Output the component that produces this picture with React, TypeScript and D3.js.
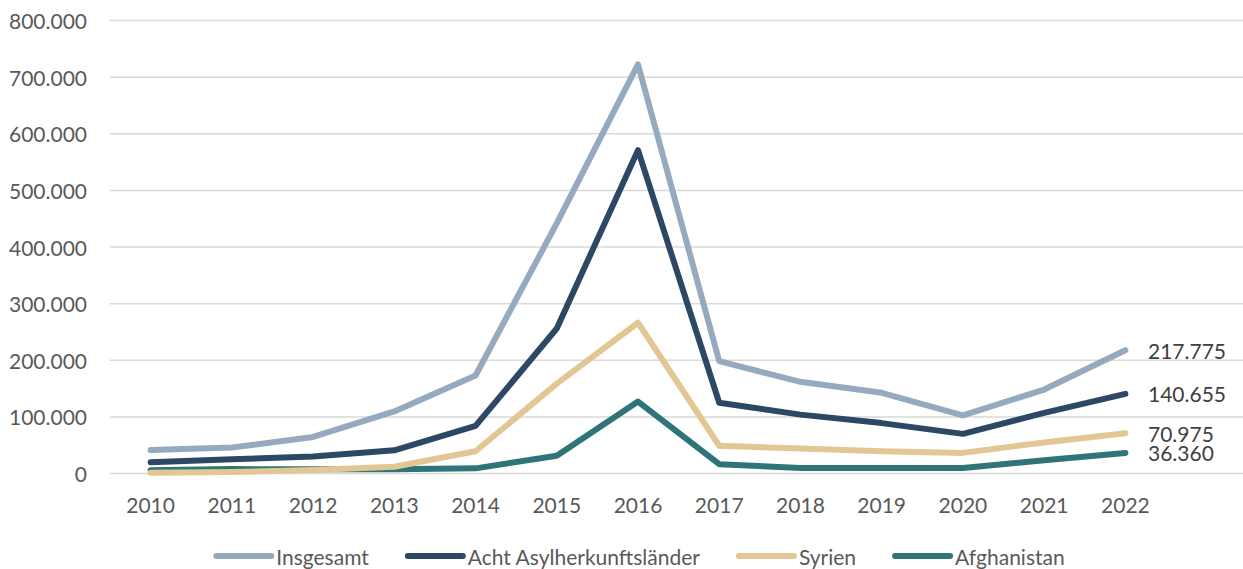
import React, { useEffect, useRef } from "react";
import * as d3 from "d3";

const years = ["2010","2011","2012","2013","2014","2015","2016","2017","2018","2019","2020","2021","2022"];
const insgesamt = [41332, 45741, 64539, 109580, 173072, 441899, 722370, 198317, 161931, 142509, 102581, 148233, 217775];
const acht = [20000, 25000, 30000, 41000, 84000, 256000, 571000, 125000, 104000, 89000, 70000, 107000, 140655];
const syrien = [1500, 2600, 6200, 11900, 39300, 158700, 266200, 48970, 44200, 39300, 36400, 54900, 70975];
const afghanistan = [5900, 7800, 7500, 7700, 9100, 31400, 127000, 16400, 9900, 9500, 9900, 23300, 36360];
const yTicks = [0, 100000, 200000, 300000, 400000, 500000, 600000, 700000, 800000];
const seriesNames = ["Insgesamt", "Acht Asylherkunftsländer", "Syrien", "Afghanistan"];
const seriesColors = ["#96AABF", "#2C4865", "#E2C794", "#2F7479"];
const seriesValues = [insgesamt, acht, syrien, afghanistan];

const W = 1243, H = 569;
const FONT = "Lato, 'Open Sans', sans-serif";
const TXT = "#595959";

const fmt = (v: number) => v === 0 ? "0" : d3.format(",")(v).replace(/,/g, ".");

export default function App() {
  const legendRef = useRef<SVGGElement>(null);
  const x = d3.scaleBand<string>().domain(years).range([110, 1166]);
  const y = d3.scaleLinear().domain([0, 800000]).range([473.5, 20.5]);
  const cx = (yr: string) => (x(yr) ?? 0) + x.bandwidth() / 2;
  const line = d3.line<number>().x((_, i) => cx(years[i])).y(v => y(v));

  useEffect(() => {
    const g = d3.select(legendRef.current);
    if (!g.node()) return;
    const items = g.selectAll<SVGGElement, unknown>("g.item").nodes();
    const lineW = 55, gap1 = 5, gap2 = 39;
    let widths = items.map(n => (n.querySelector("text") as SVGTextElement).getComputedTextLength());
    const total = widths.reduce((a, w) => a + lineW + gap1 + w, 0) + gap2 * (items.length - 1);
    let xp = 640.5 - total / 2;
    items.forEach((n, i) => {
      d3.select(n).attr("transform", `translate(${xp},0)`);
      xp += lineW + gap1 + widths[i] + gap2;
    });
  }, []);

  return (
    <svg width={W} height={H} style={{ position: "absolute", left: 0, top: 0, background: "#fff" }}>
      <g>
        {yTicks.map(t => (
          <g key={t}>
            <line x1={110} x2={W} y1={y(t)} y2={y(t)} stroke="#D9D9D9" strokeWidth={1.5} />
            <text x={87} y={y(t)} textAnchor="end" dominantBaseline="central" fontFamily={FONT} fontSize={21} fill={TXT}>{fmt(t)}</text>
          </g>
        ))}
        {years.map(yr => (
          <text key={yr} x={cx(yr)} y={504} textAnchor="middle" dominantBaseline="central" fontFamily={FONT} fontSize={21} fill={TXT}>{yr}</text>
        ))}
        {seriesValues.map((vals, i) => (
          <path key={i} d={line(vals) ?? ""} fill="none" stroke={seriesColors[i]} strokeWidth={6} strokeLinejoin="round" strokeLinecap="round" />
        )).reverse()}
        {seriesValues.map((vals, i) => (
          <text key={i} x={1148} y={y(vals[vals.length - 1])} dominantBaseline="central" fontFamily={FONT} fontSize={21} fill="#404040">{fmt(vals[vals.length - 1])}</text>
        ))}
      </g>
      <g ref={legendRef}>
        {seriesNames.map((n, i) => (
          <g className="item" key={n}>
            <line x1={0} x2={55} y1={556} y2={556} stroke={seriesColors[i]} strokeWidth={6} strokeLinecap="round" />
            <text x={60} y={556} dominantBaseline="central" fontFamily={FONT} fontSize={21} fill={TXT}>{n}</text>
          </g>
        ))}
      </g>
    </svg>
  );
}
